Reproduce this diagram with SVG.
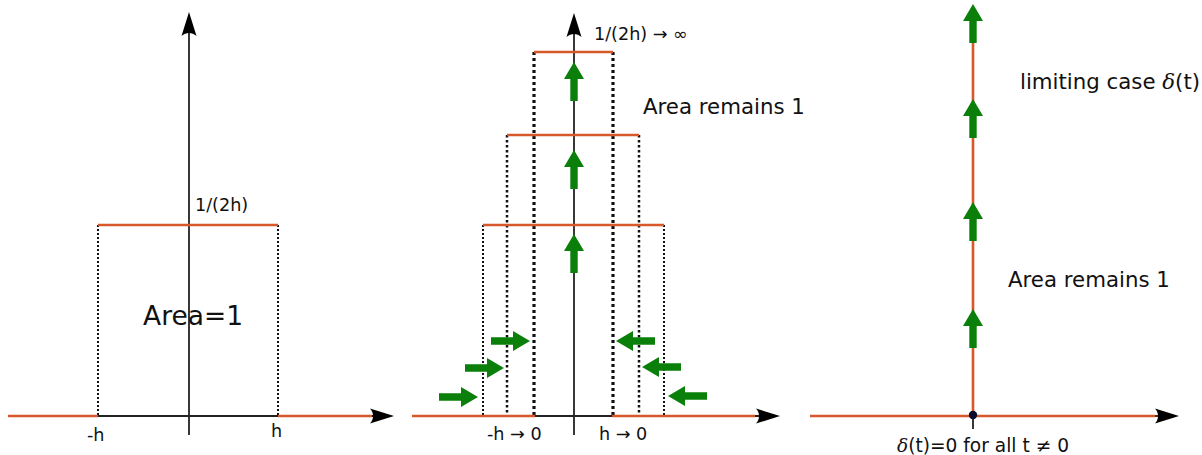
<svg xmlns="http://www.w3.org/2000/svg" width="1202" height="455" viewBox="0 0 1202 455">
<style>
text{font-family:"DejaVu Sans","Liberation Sans",sans-serif;fill:#111}
.s{font-size:17.6px}
.b{font-size:18.6px}
.m{font-size:21.3px}
.l{font-size:26.5px}
.ax{stroke:#222;stroke-width:1.8;fill:none}
.or{stroke:#d6582b;stroke-width:2.6;fill:none}
.d1{stroke:#111;stroke-width:2;stroke-dasharray:2 2;fill:none}
.d2{stroke:#111;stroke-width:2.5;stroke-dasharray:2.5 2.5;fill:none}
.d3{stroke:#111;stroke-width:3.2;stroke-dasharray:3 3;fill:none}
.g{fill:#0a800a}
.ah{fill:#000}
.dl{font-family:"DejaVu Serif","Liberation Serif",serif;font-style:italic}
</style>
<defs>
<path id="axh" d="M0,0 L-24,-7.5 C-20,-3 -20,3 -24,7.5 Z"/>
<path id="gar" d="M0,0 L10,17 L3.7,17 L3.7,39 L-3.7,39 L-3.7,17 L-10,17 Z"/>
</defs>

<g id="panel1">
<line class="ax" x1="189" y1="435" x2="189" y2="20"/>
<use href="#axh" class="ah" transform="translate(189,12) rotate(-90)"/>
<line class="ax" x1="8" y1="416" x2="385" y2="416"/>
<use href="#axh" class="ah" transform="translate(394,416)"/>
<line class="d1" x1="98" y1="225" x2="98" y2="416"/>
<line class="d1" x1="278" y1="225" x2="278" y2="416"/>
<line class="or" x1="8" y1="416" x2="98" y2="416"/>
<line class="or" x1="278" y1="416" x2="372" y2="416"/>
<line class="or" x1="98" y1="225" x2="278" y2="225"/>
<text class="s" x="195" y="211">1/(2h)</text>
<text class="l" x="143" y="325">Area=1</text>
<text class="s" x="87" y="441">-h</text>
<text class="s" x="271" y="437">h</text>
</g>

<g id="panel2">
<line class="ax" x1="574" y1="435" x2="574" y2="20"/>
<use href="#axh" class="ah" transform="translate(574,13) rotate(-90)"/>
<line class="ax" x1="412" y1="416" x2="772" y2="416"/>
<use href="#axh" class="ah" transform="translate(780,416)"/>
<line class="d1" x1="483" y1="225" x2="483" y2="416"/>
<line class="d1" x1="664" y1="225" x2="664" y2="416"/>
<line class="d2" x1="507" y1="135" x2="507" y2="416"/>
<line class="d2" x1="639" y1="135" x2="639" y2="416"/>
<line class="d3" x1="534" y1="52" x2="534" y2="416"/>
<line class="d3" x1="613" y1="52" x2="613" y2="416"/>
<line class="or" x1="412" y1="416" x2="535" y2="416"/>
<line class="or" x1="612" y1="416" x2="755" y2="416"/>
<line class="or" x1="534" y1="52" x2="613" y2="52"/>
<line class="or" x1="507" y1="135" x2="639" y2="135"/>
<line class="or" x1="483" y1="225" x2="664" y2="225"/>
<use href="#gar" class="g" transform="translate(574,62)"/>
<use href="#gar" class="g" transform="translate(574,150)"/>
<use href="#gar" class="g" transform="translate(574,234)"/>
<use href="#gar" class="g" transform="translate(530,341) rotate(90)"/>
<use href="#gar" class="g" transform="translate(504,368) rotate(90)"/>
<use href="#gar" class="g" transform="translate(478,397) rotate(90)"/>
<use href="#gar" class="g" transform="translate(616,341) rotate(-90)"/>
<use href="#gar" class="g" transform="translate(642,367) rotate(-90)"/>
<use href="#gar" class="g" transform="translate(668,396) rotate(-90)"/>
<text class="s" x="594" y="40">1/(2h) → ∞</text>
<text class="m" x="643" y="114">Area remains 1</text>
<text class="s" x="487" y="440">-h → 0</text>
<text class="s" x="599" y="440">h → 0</text>
</g>

<g id="panel3">
<line class="ax" x1="1150" y1="416" x2="1172" y2="416"/>
<use href="#axh" class="ah" transform="translate(1179,416)"/>
<line class="or" x1="810" y1="416" x2="1155" y2="416"/>
<line class="or" x1="973" y1="416" x2="973" y2="20"/>
<line class="ax" x1="973" y1="416" x2="973" y2="429"/>
<circle cx="973" cy="415" r="4.2" fill="#0b0b2b"/>
<use href="#gar" class="g" transform="translate(973,4)"/>
<use href="#gar" class="g" transform="translate(973,99)"/>
<use href="#gar" class="g" transform="translate(973,202)"/>
<use href="#gar" class="g" transform="translate(973,309)"/>
<text class="m" x="1020" y="89">limiting case <tspan class="dl">δ</tspan>(t)</text>
<text class="m" x="1008" y="287">Area remains 1</text>
<text class="b" x="897" y="452"><tspan class="dl">δ</tspan>(t)=0 for all t ≠ 0</text>
</g>
</svg>
